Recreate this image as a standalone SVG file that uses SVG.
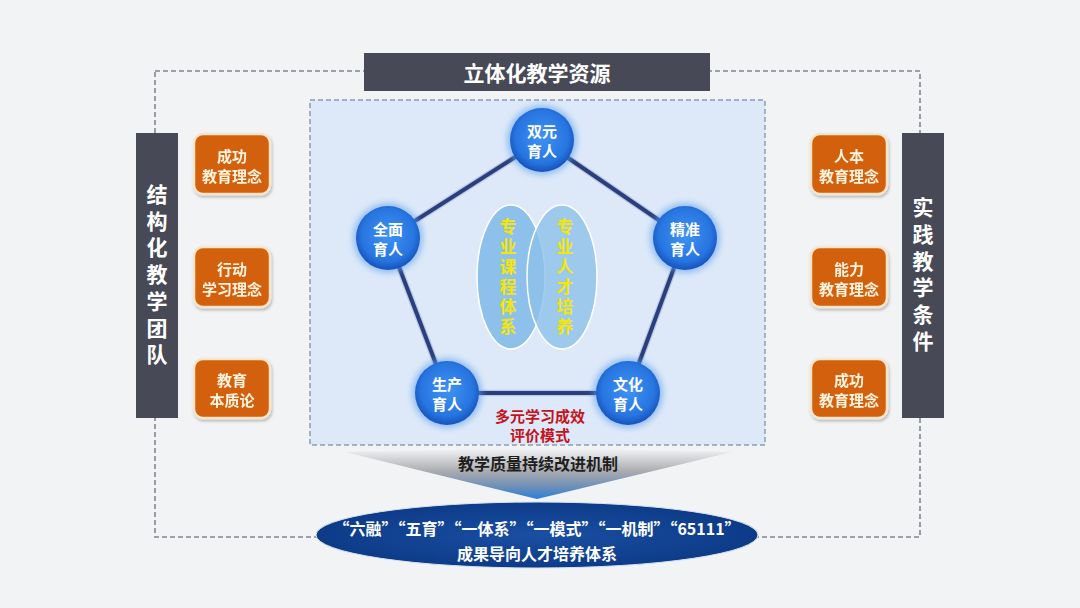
<svg xmlns="http://www.w3.org/2000/svg" width="1080" height="608" viewBox="0 0 1080 608">
<defs>
<style>
text{font-family:"Noto Sans CJK SC","Noto Sans",sans-serif;font-weight:bold;text-anchor:middle;dominant-baseline:central}
.v{writing-mode:vertical-rl;text-orientation:upright}
.bar{fill:#474a56}
.bt{fill:#ffffff;font-size:21px}
.ob{fill:#d2600f;stroke:#f7e6cc;stroke-width:2.5}
.ot{fill:#fff4de;font-size:15px}
.ct{fill:#ffffff;font-size:15px}
.yt{fill:#f3e60a;font-size:17px;letter-spacing:3px}
.edge{stroke:#2b3f7c;stroke-width:4;fill:none}
.edgeo{stroke:#b9c9e6;stroke-width:6.5;fill:none}
</style>
<radialGradient id="cg" cx="50%" cy="45%" r="55%">
<stop offset="0" stop-color="#3f93f4"/>
<stop offset="0.75" stop-color="#2775e0"/>
<stop offset="1" stop-color="#1652bc"/>
</radialGradient>
<linearGradient id="fg" x1="0" y1="0" x2="0" y2="1">
<stop offset="0" stop-color="#f2f3f5"/>
<stop offset="0.45" stop-color="#a9abaf"/>
<stop offset="0.75" stop-color="#6f8fb8"/>
<stop offset="1" stop-color="#2a7fd6"/>
</linearGradient>
<radialGradient id="eg" cx="50%" cy="50%" r="50%">
<stop offset="0" stop-color="#1a4fa3"/>
<stop offset="1" stop-color="#0d3b88"/>
</radialGradient>
<filter id="glow" x="-30%" y="-30%" width="160%" height="160%">
<feGaussianBlur stdDeviation="3"/>
</filter>
<filter id="sh" x="-20%" y="-20%" width="140%" height="140%">
<feDropShadow dx="1" dy="2" stdDeviation="1.5" flood-color="#000" flood-opacity="0.25"/>
</filter>
</defs>
<rect width="1080" height="608" fill="#f2f3f5"/>

<!-- outer dashed frame -->
<rect x="155" y="71" width="765" height="466" fill="none" stroke="#808894" stroke-width="1.6" stroke-dasharray="5,3"/>

<!-- inner panel -->
<rect id="panel" x="310" y="100" width="455" height="345" fill="#dde9f8" stroke="#8a9db5" stroke-width="1.5" stroke-dasharray="5,3"/>

<g id="title">
<rect class="bar" x="364" y="53" width="346" height="38"/>
<text class="bt" x="537" y="72" font-size="20">立体化教学资源</text>
</g>

<g id="left-bar">
<rect class="bar" x="136" y="133" width="42" height="285"/>
<text class="bt v" x="157" y="277" style="letter-spacing:5.7px">结构化教学团队</text>
</g>

<g id="right-bar">
<rect class="bar" x="902" y="133" width="42" height="285"/>
<text class="bt v" x="923" y="277" style="letter-spacing:5.7px">实践教学条件</text>
</g>

<g id="l1" filter="url(#sh)"><rect class="ob" x="194" y="134" width="76" height="60" rx="9"/><text class="ot" x="232" y="155">成功<tspan x="232" dy="20">教育理念</tspan></text></g>
<g id="l2" filter="url(#sh)"><rect class="ob" x="194" y="247" width="76" height="60" rx="9"/><text class="ot" x="232" y="268">行动<tspan x="232" dy="20">学习理念</tspan></text></g>
<g id="l3" filter="url(#sh)"><rect class="ob" x="194" y="359" width="76" height="59" rx="9"/><text class="ot" x="232" y="379">教育<tspan x="232" dy="20">本质论</tspan></text></g>

<g id="r1" filter="url(#sh)"><rect class="ob" x="811" y="134" width="76" height="60" rx="9"/><text class="ot" x="849" y="155">人本<tspan x="849" dy="20">教育理念</tspan></text></g>
<g id="r2" filter="url(#sh)"><rect class="ob" x="811" y="247" width="76" height="60" rx="9"/><text class="ot" x="849" y="268">能力<tspan x="849" dy="20">教育理念</tspan></text></g>
<g id="r3" filter="url(#sh)"><rect class="ob" x="811" y="359" width="76" height="59" rx="9"/><text class="ot" x="849" y="379">成功<tspan x="849" dy="20">教育理念</tspan></text></g>

<g id="connectors">
<polygon class="edgeo" points="542,140 685,238 628,393 447,393 388,238"/>
<polygon class="edge" points="542,140 685,238 628,393 447,393 388,238"/>
</g>

<g id="ellipses">
<ellipse cx="511" cy="277" rx="34" ry="72" fill="#8dc0ea" stroke="#ffffff" stroke-width="1.5"/>
<ellipse cx="562" cy="277" rx="35" ry="72" fill="#8dc0ea" fill-opacity="0.8" stroke="#ffffff" stroke-width="1.5"/>
<text class="yt v" x="508" y="278">专业课程体系</text>
<text class="yt v" x="565" y="278">专业人才培养</text>
</g>

<g id="n1"><circle cx="542" cy="140" r="35" fill="#5d9ff0" opacity="0.6" filter="url(#glow)"/><circle cx="542" cy="140" r="32" fill="url(#cg)"/><text class="ct" x="542" y="130">双元<tspan x="542" dy="20">育人</tspan></text></g>
<g id="n2"><circle cx="388" cy="238" r="35" fill="#5d9ff0" opacity="0.6" filter="url(#glow)"/><circle cx="388" cy="238" r="32" fill="url(#cg)"/><text class="ct" x="388" y="228">全面<tspan x="388" dy="20">育人</tspan></text></g>
<g id="n3"><circle cx="685" cy="238" r="35" fill="#5d9ff0" opacity="0.6" filter="url(#glow)"/><circle cx="685" cy="238" r="32" fill="url(#cg)"/><text class="ct" x="685" y="228">精准<tspan x="685" dy="20">育人</tspan></text></g>
<g id="n4"><circle cx="447" cy="393" r="35" fill="#5d9ff0" opacity="0.6" filter="url(#glow)"/><circle cx="447" cy="393" r="32" fill="url(#cg)"/><text class="ct" x="447" y="383">生产<tspan x="447" dy="20">育人</tspan></text></g>
<g id="n5"><circle cx="628" cy="393" r="35" fill="#5d9ff0" opacity="0.6" filter="url(#glow)"/><circle cx="628" cy="393" r="32" fill="url(#cg)"/><text class="ct" x="628" y="383">文化<tspan x="628" dy="20">育人</tspan></text></g>

<g id="eval">
<text x="540" y="415" fill="#c3141e" font-size="15">多元学习成效<tspan x="540" dy="19">评价模式</tspan></text>
</g>

<g id="funnel">
<path d="M345,452 Q537,446 732,452 L537,499 Z" fill="url(#fg)"/>
<text x="538" y="463" fill="#1e1e1e" font-size="16">教学质量持续改进机制</text>
</g>

<g id="result">
<ellipse cx="537" cy="535" rx="221" ry="33" fill="url(#eg)" stroke="#d6e2f2" stroke-width="1"/>
<text x="537" y="528" fill="#ffffff" font-size="16">“六融”“五育”“一体系”“一模式”“一机制”“65111”<tspan x="537" dy="25">成果导向人才培养体系</tspan></text>
</g>
</svg>
